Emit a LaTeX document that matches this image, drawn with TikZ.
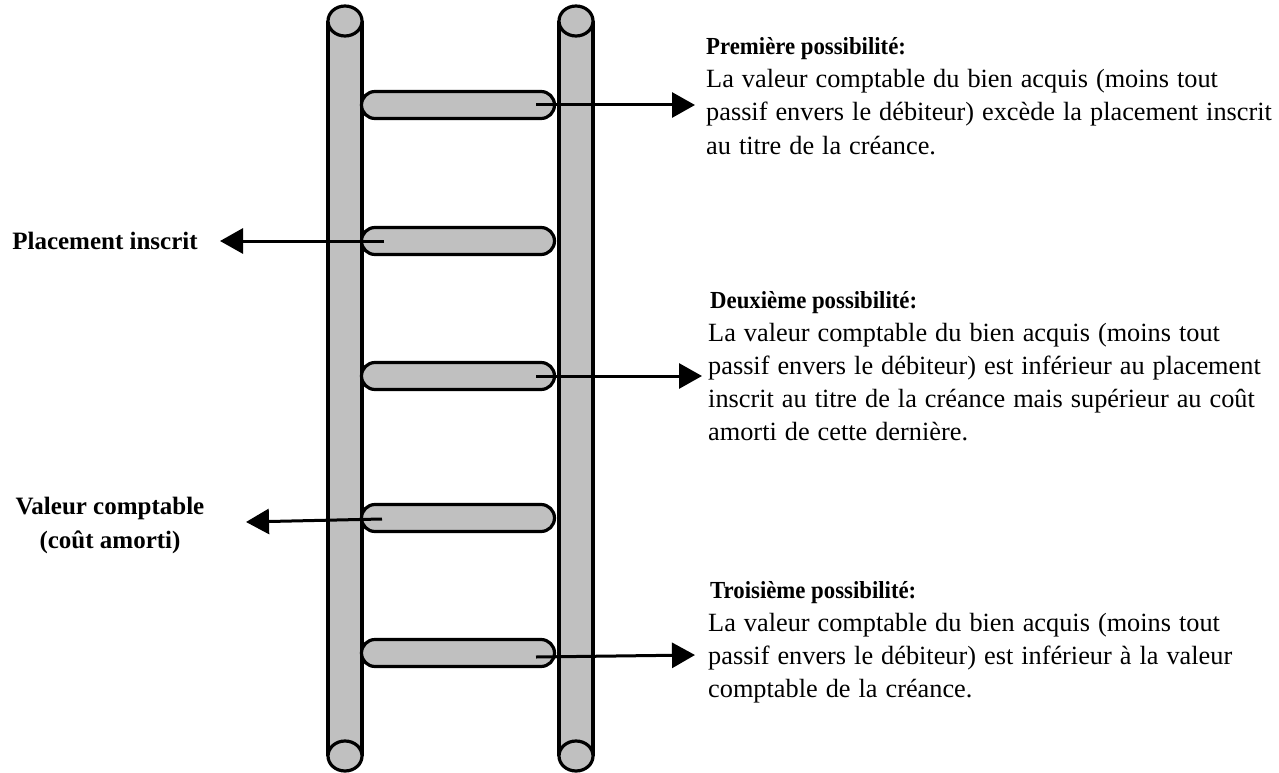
\documentclass[tikz,border=0pt]{standalone}
\usepackage{fontspec}
\setmainfont{Liberation Serif}
\newfontfamily\headfont[FakeStretch=0.93]{Liberation Serif}
\newcommand\ladbodyfont{\fontsize{26.3}{30}\selectfont\spaceskip 8pt\relax}
\usetikzlibrary{arrows.meta,shapes.misc}
\definecolor{ladgray}{HTML}{C0C0C0}
\begin{document}
\begin{tikzpicture}[x=1pt,y=-1pt,
  outl/.style={line width=3.2pt,draw=black},
  rung/.style={rounded rectangle, fill=ladgray, outl, minimum width=193pt, minimum height=27pt, inner sep=0pt},
  arr/.style={line width=3pt,-{Triangle[length=23pt,width=25pt]}},
  bodytxt/.style={anchor=base west, inner sep=0pt, font=\ladbodyfont},
  headtxt/.style={anchor=base west, inner sep=0pt, font=\headfont\fontsize{24.5}{30}\selectfont\bfseries},
  sidetxt/.style={anchor=base, inner sep=0pt, font=\fontsize{25}{30}\selectfont\bfseries}
]
\useasboundingbox (0,0) rectangle (1279,773);
% poles
\fill[ladgray] (328,21) rectangle (362,756);
\draw[outl] (328,21) -- (328,756) (362,21) -- (362,756);
\draw[outl,fill=ladgray] (345,21) ellipse [x radius=17pt, y radius=15pt];
\draw[outl,fill=ladgray] (345,756) ellipse [x radius=17pt, y radius=15pt];
\fill[ladgray] (559,21) rectangle (593,756);
\draw[outl] (559,21) -- (559,756) (593,21) -- (593,756);
\draw[outl,fill=ladgray] (576,21) ellipse [x radius=17pt, y radius=15pt];
\draw[outl,fill=ladgray] (576,756) ellipse [x radius=17pt, y radius=15pt];
% rungs
\node[rung] (r1) at (458,105) {};
\node[rung] (r2) at (458,241) {};
\node[rung] (r3) at (458,376) {};
\node[rung] (r4) at (458,518) {};
\node[rung] (r5) at (458,653) {};
% arrow end points
\coordinate (s1) at (536,105); \coordinate (e1) at (695,105);
\coordinate (s2) at (384,241); \coordinate (e2) at (220,241);
\coordinate (s3) at (536,376); \coordinate (e3) at (702,376);
\coordinate (s4) at (382,519); \coordinate (e4) at (246,522);
\coordinate (s5) at (536,657); \coordinate (e5) at (695,655);
\draw[arr] (s1) -- (e1);
\draw[arr] (s2) -- (e2);
\draw[arr] (s3) -- (e3);
\draw[arr] (s4) -- (e4);
\draw[arr] (s5) -- (e5);
% left labels
\node[sidetxt] (pl) at (105,249) {Placement inscrit};
\node[sidetxt] (vc1) at (110,514) {Valeur comptable};
\node[sidetxt] (vc2) at (110,548) {(coût amorti)};
% block 1
\node[headtxt] (h1) at (706,55) {Première possibilité:};
\node[bodytxt] (b1a) at (706,88) {La valeur comptable du bien acquis (moins tout};
\node[bodytxt] (b1b) at (706,121) {passif envers le débiteur) excède la placement inscrit};
\node[bodytxt] (b1c) at (706,154) {au titre de la créance.};
% block 2
\node[headtxt] (h2) at (710,308) {Deuxième possibilité:};
\node[bodytxt] (b2a) at (708,341) {La valeur comptable du bien acquis (moins tout};
\node[bodytxt] (b2b) at (708,374) {passif envers le débiteur) est inférieur au placement};
\node[bodytxt] (b2c) at (708,407) {inscrit au titre de la créance mais supérieur au coût};
\node[bodytxt] (b2d) at (708,440) {amorti de cette dernière.};
% block 3
\node[headtxt] (h3) at (710,598) {Troisième possibilité:};
\node[bodytxt] (b3a) at (708,631) {La valeur comptable du bien acquis (moins tout};
\node[bodytxt] (b3b) at (708,664) {passif envers le débiteur) est inférieur à la valeur};
\node[bodytxt] (b3c) at (708,697) {comptable de la créance.};
\end{tikzpicture}
\end{document}
